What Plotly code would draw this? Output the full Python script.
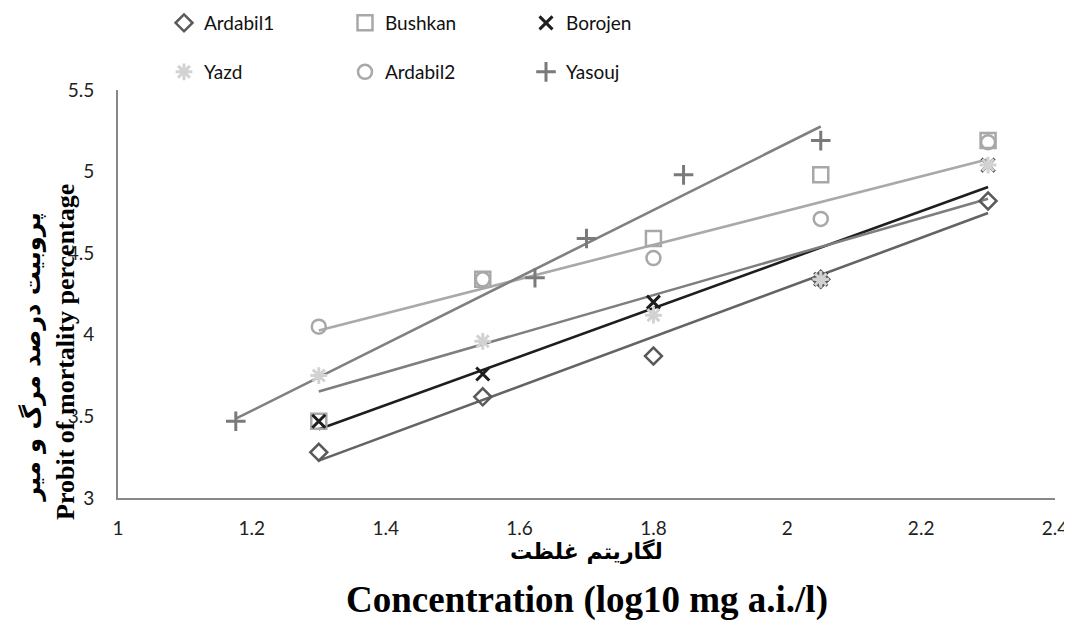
import numpy as np
import plotly.graph_objects as go

# ---------------- data ----------------
series_names = ["Ardabil1", "Bushkan", "Borojen", "Yazd", "Ardabil2", "Yasouj"]

x_common = [1.3, 1.545, 1.8, 2.05, 2.3]
x_yasouj = [1.176, 1.623, 1.7, 1.845, 2.05]

ardabil1 = [3.28, 3.62, 3.87, 4.34, 4.82]
bushkan = [3.47, 4.34, 4.59, 4.98, 5.19]
borojen = [3.47, 3.76, 4.20, 4.34, 5.04]
yazd = [3.75, 3.96, 4.12, 4.34, 5.04]
ardabil2 = [4.05, 4.34, 4.47, 4.71, 5.18]
yasouj = [3.47, 4.35, 4.59, 4.98, 5.19]

x_ticks = [1, 1.2, 1.4, 1.6, 1.8, 2, 2.2, 2.4]
x_tick_labels = ["1", "1.2", "1.4", "1.6", "1.8", "2", "2.2", "2.4"]
y_ticks = [3, 3.5, 4, 4.5, 5, 5.5]
y_tick_labels = ["3", "3.5", "4", "4.5", "5", "5.5"]

y_title_fa = "پروبیت درصد مرگ و میر"
y_title_en = "Probit of mortality percentage"
x_title_fa = "لگاریتم غلظت"
x_title_en = "Concentration (log10 mg a.i./l)"

# ---------------- styles ----------------
styles = {
    "Ardabil1": dict(symbol="diamond-open", color="#595959", size=13, lw=2.5, trend="#646464", legend="legend"),
    "Bushkan": dict(symbol="square-open", color="#A8A8A8", size=15, lw=2.5, trend=None, legend="legend"),
    "Borojen": dict(symbol="x-thin-open", color="#1E1E1E", size=13, lw=3, trend="#1E1E1E", legend="legend"),
    "Yazd": dict(symbol="asterisk-open", color="#D2D2D2", size=14, lw=3, trend="#7E7E7E", legend="legend2"),
    "Ardabil2": dict(symbol="circle-open", color="#A8A8A8", size=14, lw=2.5, trend="#A9A9A9", legend="legend2"),
    "Yasouj": dict(symbol="cross-thin-open", color="#7A7A7A", size=14, lw=3, trend="#808080", legend="legend2"),
}

data = {
    "Ardabil1": (x_common, ardabil1),
    "Bushkan": (x_common, bushkan),
    "Borojen": (x_common, borojen),
    "Yazd": (x_common, yazd),
    "Ardabil2": (x_common, ardabil2),
    "Yasouj": (x_yasouj, yasouj),
}

fig = go.Figure()

# linear trendlines (least squares), drawn below markers
for name in series_names:
    st = styles[name]
    if st["trend"] is None:
        continue
    xs, ys = data[name]
    k, b = np.polyfit(xs, ys, 1)
    tx = [min(xs), max(xs)]
    fig.add_trace(go.Scatter(
        x=tx, y=[k * v + b for v in tx], mode="lines",
        line=dict(color=st["trend"], width=2.6),
        showlegend=False, hoverinfo="skip"))

for name in series_names:
    st = styles[name]
    xs, ys = data[name]
    fig.add_trace(go.Scatter(
        x=xs, y=ys, mode="markers", name=name, legend=st["legend"],
        marker=dict(symbol=st["symbol"], size=st["size"], color=st["color"],
                    line=dict(color=st["color"], width=st["lw"]))))

# the page body adds an 8px margin, so the figure is 8px smaller on each axis
W, H = 1064, 622

tick_font = dict(family="Lato, Liberation Sans, sans-serif", size=19, color="#222222")
legend_common = dict(orientation="h", xref="container", yref="container",
                     xanchor="left", yanchor="middle",
                     entrywidth=136, entrywidthmode="pixels", itemwidth=30,
                     font=dict(family="Lato, Liberation Sans, sans-serif", size=19, color="#111111"),
                     bgcolor="rgba(0,0,0,0)", tracegroupgap=0)

fig.update_layout(
    width=W, height=H,
    margin=dict(l=110, r=17, t=82, b=132, autoexpand=False),
    paper_bgcolor="white", plot_bgcolor="white",
    showlegend=True,
    legend=dict(x=156 / W, y=1 - 15 / H, **legend_common),
    legend2=dict(x=156 / W, y=1 - 64 / H, **legend_common),
    xaxis=dict(range=[1, 2.4], tickmode="array", tickvals=x_ticks, ticktext=x_tick_labels,
               showgrid=False, zeroline=False, showline=True, linecolor="#888888", linewidth=2,
               ticks="", tickfont=tick_font, ticklabelstandoff=12),
    yaxis=dict(range=[3, 5.5], tickmode="array", tickvals=y_ticks, ticktext=y_tick_labels,
               showgrid=False, zeroline=False, showline=True, linecolor="#888888", linewidth=2,
               ticks="", tickfont=tick_font, ticklabelstandoff=18),
    annotations=[
        dict(text="<b>" + y_title_en + "</b>", textangle=-90, xref="paper", yref="paper",
             x=0, y=0.358, xanchor="center", yanchor="middle", xshift=-52, showarrow=False,
             font=dict(family="Liberation Serif, serif", size=26, color="#000000")),
        dict(text="<b>" + y_title_fa + "</b>", textangle=-90, xref="paper", yref="paper",
             x=0, y=0.346, xanchor="center", yanchor="middle", xshift=-86, showarrow=False,
             font=dict(family="DejaVu Sans, sans-serif", size=24, color="#000000")),
        dict(text="<b>" + x_title_fa + "</b>", xref="paper", yref="paper",
             x=0.5, y=0, xanchor="center", yanchor="middle", yshift=-53, showarrow=False,
             font=dict(family="DejaVu Sans, sans-serif", size=22, color="#000000")),
        dict(text="<b>" + x_title_en + "</b>", xref="paper", yref="paper",
             x=0.5, y=0, xanchor="center", yanchor="middle", yshift=-102, showarrow=False,
             font=dict(family="Liberation Serif, serif", size=37, color="#000000")),
    ],
)

fig.write_html("out.html")
